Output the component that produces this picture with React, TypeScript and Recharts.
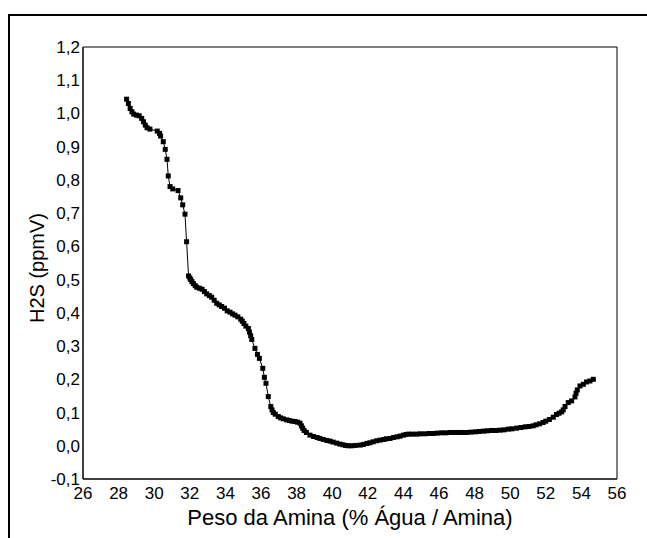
import React from 'react';
import { LineChart, Line, XAxis, YAxis, ReferenceArea } from 'recharts';

const pesoAmina: number[] = [
  28.45, 28.55, 28.65, 28.75, 28.85, 29.0, 29.16, 29.3, 29.4, 29.5, 29.6, 29.76, 30.17, 30.3, 30.36, 30.51, 30.62, 30.72, 30.79, 30.89,
  31.04, 31.34, 31.49, 31.6, 31.73, 31.82, 31.93, 32.0, 32.05, 32.12, 32.2, 32.3, 32.39, 32.55, 32.69, 32.82, 32.95, 33.1, 33.23, 33.37,
  33.51, 33.65, 33.79, 33.95, 34.1, 34.26, 34.4, 34.54, 34.7, 34.86, 34.95, 35.04, 35.15, 35.29, 35.35, 35.42, 35.48, 35.66, 35.8, 35.91,
  36.1, 36.19, 36.28, 36.41, 36.55, 36.62, 36.69, 36.8, 36.97, 37.1, 37.25, 37.44, 37.6, 37.75, 37.91, 38.05, 38.19, 38.27, 38.34, 38.42,
  38.55, 38.75, 38.95, 39.15, 39.31, 39.5, 39.7, 39.88, 40.05, 40.25, 40.44, 40.6, 40.75, 40.91, 41.1, 41.3, 41.57, 41.75, 41.95, 42.12,
  42.3, 42.5, 42.69, 42.9, 43.05, 43.25, 43.45, 43.65, 43.81, 44.0, 44.15, 44.28, 44.5, 44.74, 44.95, 45.2, 45.45, 45.68, 45.9, 46.15,
  46.4, 46.62, 46.85, 47.1, 47.3, 47.55, 47.8, 48.05, 48.25, 48.49, 48.7, 48.95, 49.2, 49.43, 49.65, 49.9, 50.1, 50.36, 50.6, 50.85,
  51.05, 51.29, 51.45, 51.65, 51.85, 52.0, 52.2, 52.42, 52.6, 52.75, 52.89, 52.98, 53.08, 53.26, 53.45, 53.64, 53.7, 53.77, 53.92, 54.11,
  54.29, 54.48, 54.67,
];

const h2sPpmV: number[] = [
  1.043, 1.03, 1.015, 1.005, 0.998, 0.995, 0.993, 0.985, 0.975, 0.965, 0.957, 0.953, 0.947, 0.94, 0.932, 0.915, 0.892, 0.862, 0.812, 0.78,
  0.773, 0.768, 0.746, 0.725, 0.697, 0.614, 0.511, 0.505, 0.5, 0.494, 0.488, 0.482, 0.477, 0.474, 0.471, 0.464, 0.457, 0.452, 0.447, 0.438,
  0.429, 0.424, 0.419, 0.414, 0.406, 0.402, 0.397, 0.393, 0.388, 0.381, 0.375, 0.368, 0.36, 0.353, 0.342, 0.331, 0.32, 0.293, 0.275, 0.263,
  0.233, 0.206, 0.188, 0.148, 0.118, 0.108, 0.1, 0.095, 0.088, 0.084, 0.081, 0.078, 0.076, 0.074, 0.073, 0.071, 0.068, 0.06, 0.053, 0.046,
  0.04, 0.032, 0.028, 0.025, 0.022, 0.019, 0.016, 0.014, 0.011, 0.008, 0.005, 0.003, 0.001, 0.0, 0.0, 0.001, 0.002, 0.004, 0.007, 0.009,
  0.012, 0.015, 0.017, 0.019, 0.021, 0.022, 0.025, 0.027, 0.029, 0.032, 0.034, 0.035, 0.035, 0.035, 0.036, 0.036, 0.037, 0.037, 0.038, 0.039,
  0.039, 0.04, 0.04, 0.04, 0.04, 0.04, 0.041, 0.042, 0.043, 0.044, 0.045, 0.046, 0.046, 0.047, 0.048, 0.05, 0.051, 0.053, 0.055, 0.057,
  0.058, 0.06, 0.063, 0.066, 0.07, 0.074, 0.079, 0.086, 0.094, 0.098, 0.102, 0.108, 0.118, 0.13, 0.135, 0.147, 0.158, 0.168, 0.18, 0.185,
  0.192, 0.195, 0.2,
];

const xTicks: number[] = [26, 28, 30, 32, 34, 36, 38, 40, 42, 44, 46, 48, 50, 52, 54, 56];
const yTicks: number[] = [-0.1, 0, 0.1, 0.2, 0.3, 0.4, 0.5, 0.6, 0.7, 0.8, 0.9, 1.0, 1.1, 1.2];

const xTitle = 'Peso da Amina (% Água / Amina)';
const yTitle = 'H2S (ppmV)';

const data = pesoAmina.map((x, i) => ({ x, y: h2sPpmV[i] }));

const FONT = '"Liberation Sans", Arial, sans-serif';

const SquareDot = (props: any) => {
  const { cx, cy, index } = props;
  if (cx == null || cy == null) return <g key={`d-${index}`} />;
  return <rect key={`d-${index}`} x={cx - 2.5} y={cy - 2.5} width={5} height={5} fill="#000" />;
};

const fmt = (v: number) => v.toFixed(1).replace('.', ',');

export default function App() {
  return (
    <div style={{ position: 'absolute', left: 0, top: 0, width: 647, height: 538, background: '#fff', fontFamily: FONT }}>
      <div
        style={{
          position: 'absolute',
          left: 8,
          top: 14,
          width: 639,
          height: 524,
          boxSizing: 'border-box',
          borderTop: '2px solid #000',
          borderLeft: '2px solid #000',
        }}
      />
      <div style={{ position: 'absolute', left: 0, top: 0 }}>
        <LineChart width={647} height={538} data={data} margin={{ top: 47, right: 30, bottom: 29, left: 23 }}>
          <XAxis
            type="number"
            dataKey="x"
            domain={[26, 56]}
            ticks={xTicks}
            allowDataOverflow
            height={30}
            tickLine={false}
            tickSize={0}
            tickMargin={8}
            axisLine={{ stroke: '#000', strokeWidth: 1 }}
            tick={{ fill: '#000', fontSize: 17, fontFamily: FONT }}
            interval={0}
            label={{
              content: () => (
                <text x={350} y={525} textAnchor="middle" fill="#000" fontSize={22} fontFamily={FONT}>
                  {xTitle}
                </text>
              ),
            }}
          />
          <YAxis
            type="number"
            domain={[-0.1, 1.2]}
            ticks={yTicks}
            allowDataOverflow
            width={60}
            tickLine={false}
            tickSize={0}
            tickMargin={3}
            tickFormatter={fmt}
            axisLine={{ stroke: '#000', strokeWidth: 1 }}
            tick={{ fill: '#000', fontSize: 17, fontFamily: FONT }}
            interval={0}
            label={{
              content: () => (
                <text
                  x={37}
                  y={268}
                  textAnchor="middle"
                  dominantBaseline="central"
                  transform="rotate(-90 37 268)"
                  fill="#000"
                  fontSize={20}
                  fontFamily={FONT}
                >
                  {yTitle}
                </text>
              ),
            }}
          />
          <ReferenceArea x1={26} x2={56} y1={-0.1} y2={1.2} fill="none" fillOpacity={0} stroke="#000" strokeWidth={1} ifOverflow="visible" />
          <Line
            type="linear"
            dataKey="y"
            stroke="#000"
            strokeWidth={1}
            dot={SquareDot}
            activeDot={false}
            isAnimationActive={false}
          />
        </LineChart>
      </div>
    </div>
  );
}
